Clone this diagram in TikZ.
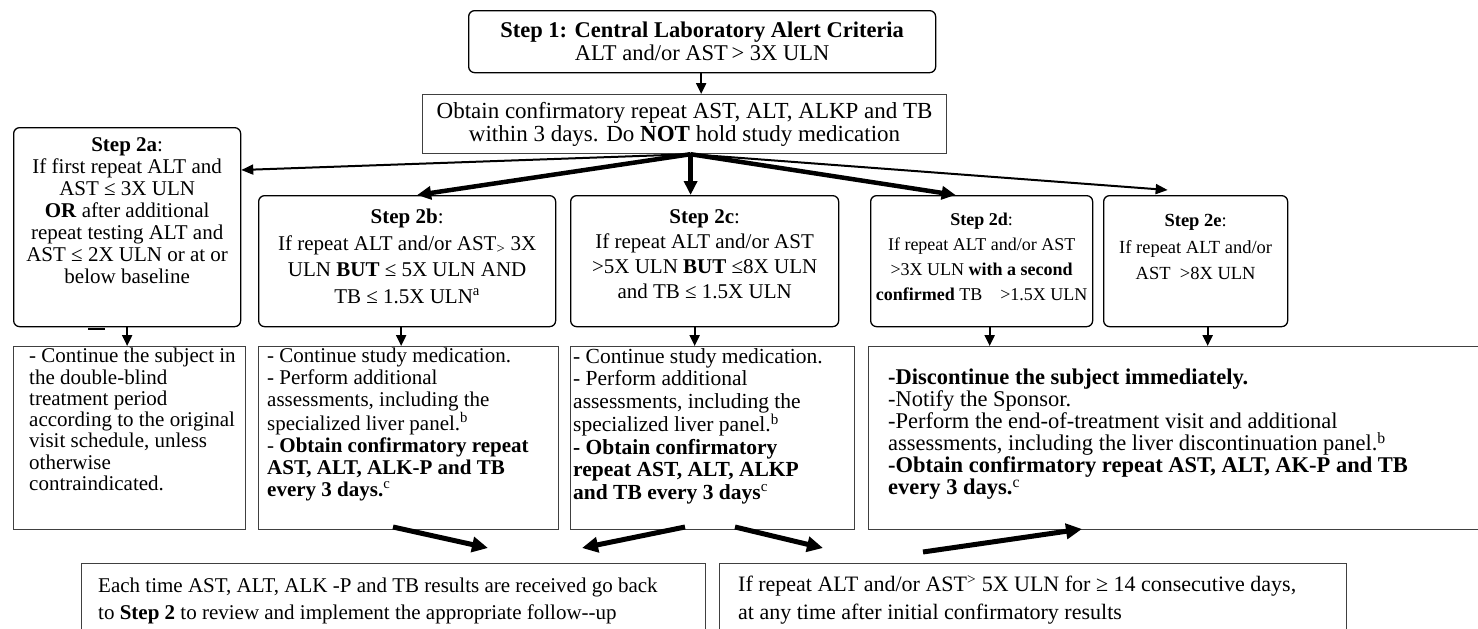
\documentclass[tikz,border=0pt]{standalone}
\usepackage{fontspec}
\setmainfont{Liberation Serif}
\usetikzlibrary{arrows.meta}
\begin{document}
\begin{tikzpicture}[x=1pt,y=-1pt,
  stepbox/.style={draw=black, rounded corners=6pt, line width=1.3pt, inner sep=0pt, anchor=north west},
  plainbox/.style={draw=black!75, line width=1.2pt, inner sep=0pt, anchor=north west},
  lbl/.style={inner sep=0pt, align=center},
  lft/.style={inner sep=0pt, align=left, anchor=north west},
  dn/.style={-{Triangle[length=11pt,width=10pt]}, line width=2.2pt},
  thinarr/.style={-{Triangle[length=12pt,width=10pt]}, line width=2pt},
  fat/.style={-{Triangle[length=14pt,width=13pt]}, line width=4.5pt},
  gap/.style={-{Triangle[length=16pt,width=15pt]}, line width=5pt}
]
\useasboundingbox (0,0) rectangle (1478,629);

% Step 1 and confirmation box
\node[stepbox, minimum width=467pt, minimum height=62pt, align=center,
      font=\fontsize{22.5}{23}\selectfont] (s1) at (468,10)
  {\textbf{Step 1: Central Laboratory Alert Criteria}\\ALT and/or AST\,> 3X ULN};
\node[plainbox, minimum width=524pt, minimum height=59pt, align=center,
      font=\fontsize{23}{23}\selectfont] (ob) at (422,94)
  {Obtain confirmatory repeat AST, ALT, ALKP and TB\\within 3 days. Do \textbf{NOT} hold study medication};

% Step 2 boxes
\node[stepbox, minimum width=227pt, minimum height=199pt] (s2a) at (13,127) {};
\node[lbl, anchor=north, font=\fontsize{21}{22}\selectfont] (t2a) at ([yshift=-10pt]s2a.north)
  {\textbf{Step 2a}:\\If first repeat ALT and\\AST ≤ 3X ULN\\\textbf{OR} after additional\\repeat testing ALT and\\AST ≤ 2X ULN or at or\\below baseline};
\draw[line width=2pt] (88,328.5) -- (105,328.5);

\node[stepbox, minimum width=297pt, minimum height=131pt] (s2b) at (258,195) {};
\node[lbl, font=\fontsize{21}{26.5}\selectfont] (t2b) at ([yshift=5pt]s2b.center)
  {\textbf{Step 2b}:\\If repeat ALT and/or AST\textsubscript{>} 3X\\ULN \textbf{BUT} ≤ 5X ULN AND\\TB ≤ 1.5X ULN\textsuperscript{a}};

\node[stepbox, minimum width=268pt, minimum height=131pt] (s2c) at (570,195) {};
\node[lbl, font=\fontsize{21}{25.3}\selectfont] (t2c) at ([yshift=7pt]s2c.center)
  {\textbf{Step 2c}:\\If repeat ALT and/or AST\\>5X ULN \textbf{BUT} ≤8X ULN\\and TB ≤ 1.5X ULN};

\node[stepbox, minimum width=222pt, minimum height=131pt] (s2d) at (870,195) {};
\node[lbl, font=\fontsize{18}{25}\selectfont] (t2d) at ([yshift=4pt]s2d.center)
  {\textbf{Step 2d}:\\If repeat ALT and/or AST\\>3X ULN \textbf{with a second}\\\textbf{confirmed} TB\quad >1.5X ULN};

\node[stepbox, minimum width=184pt, minimum height=131pt] (s2e) at (1103,195) {};
\node[lbl, font=\fontsize{18.5}{26.5}\selectfont] (t2e) at ([yshift=14pt]s2e.center)
  {\textbf{Step 2e}:\\If repeat ALT and/or\\AST\enspace>8X ULN};

% Action boxes
\node[plainbox, minimum width=232pt, minimum height=183pt] (ba) at (13,346) {};
\node[lft, font=\fontsize{21}{21.3}\selectfont] (ta) at (29,348)
  {- Continue the subject in\\the double-blind\\treatment period\\according to the original\\visit schedule, unless\\otherwise\\contraindicated.};

\node[plainbox, minimum width=300pt, minimum height=183pt] (bb) at (258,346) {};
\node[lft, font=\fontsize{21}{22}\selectfont] (tb) at (267,348)
  {- Continue study medication.\\- Perform additional\\assessments, including the\\specialized liver panel.\textsuperscript{b}\\- \textbf{Obtain confirmatory repeat}\\\textbf{AST, ALT, ALK-P and TB}\\\textbf{every 3 days.}\textsuperscript{c}};

\node[plainbox, minimum width=284pt, minimum height=183pt] (bc) at (570,346) {};
\node[lft, font=\fontsize{21.5}{22.5}\selectfont] (tc) at (573,348)
  {- Continue study medication.\\- Perform additional\\assessments, including the\\specialized liver panel.\textsuperscript{b}\\\textbf{- Obtain confirmatory}\\\textbf{repeat AST, ALT, ALKP}\\\textbf{and TB every 3 days}\textsuperscript{c}};

\node[plainbox, minimum width=640pt, minimum height=183pt] (bd) at (868,346) {};
\node[lft, font=\fontsize{22.5}{22}\selectfont] (td) at (888,369)
  {\textbf{-Discontinue the subject immediately.}\\-Notify the Sponsor.\\-Perform the end-of-treatment visit and additional\\assessments, including the liver discontinuation panel.\textsuperscript{b}\\\textbf{-Obtain confirmatory repeat AST, ALT, AK-P and TB}\\\textbf{every 3 days.}\textsuperscript{c}};

% Bottom boxes
\node[plainbox, minimum width=624pt, minimum height=90pt] (be) at (81,563) {};
\node[lft, font=\fontsize{21}{27}\selectfont] (te) at (98,578)
  {Each time AST, ALT, ALK -P and TB results are received go back\\to \textbf{Step 2} to review and implement the appropriate follow-{}-up};

\node[plainbox, minimum width=627pt, minimum height=90pt] (bf) at (719,563) {};
\node[lft, font=\fontsize{22}{28}\selectfont] (tf) at (738,575)
  {If repeat ALT and/or AST\textsuperscript{>} 5X ULN for ≥ 14 consecutive days,\\at any time after initial confirmatory results};

% Connectors
\draw[dn] ([xshift=-1pt]s1.south) -- ([xshift=-1pt]s1.south |- ob.north);
\coordinate (fan) at ([xshift=6pt]ob.south);
\draw[thinarr] (fan) -- ([yshift=-43pt]s2a.north east);
\draw[fat] (fan) -- ([xshift=10pt]s2b.north);
\draw[fat] (fan) -- (fan |- s2c.north);
\draw[fat] (fan) -- ([xshift=-26pt]s2d.north);
\draw[thinarr] (fan) -- ([xshift=-28pt,yshift=5pt]s2e.north);

\draw[dn] (s2a.south) -- (s2a.south |- ba.north);
\draw[dn] ([xshift=-6pt]s2b.south) -- ([xshift=-6pt]s2b.south |- bb.north);
\draw[dn] ([xshift=-10pt]s2c.south) -- ([xshift=-10pt]s2c.south |- bc.north);
\draw[dn] ([xshift=8pt]s2d.south) -- ([xshift=8pt]s2d.south |- bd.north);
\draw[dn] ([xshift=12pt]s2e.south) -- ([xshift=12pt]s2e.south |- bd.north);

\coordinate (g1s) at (393,527); \coordinate (g1e) at (488,548);
\coordinate (g2s) at (685,527); \coordinate (g2e) at (582,548);
\coordinate (g3s) at (735,527); \coordinate (g3e) at (823,548);
\coordinate (g4s) at (923,552); \coordinate (g4e) at (1082,529);
\draw[gap] (g1s) -- (g1e);
\draw[gap] (g2s) -- (g2e);
\draw[gap] (g3s) -- (g3e);
\draw[gap] (g4s) -- (g4e);
\end{tikzpicture}
\end{document}
